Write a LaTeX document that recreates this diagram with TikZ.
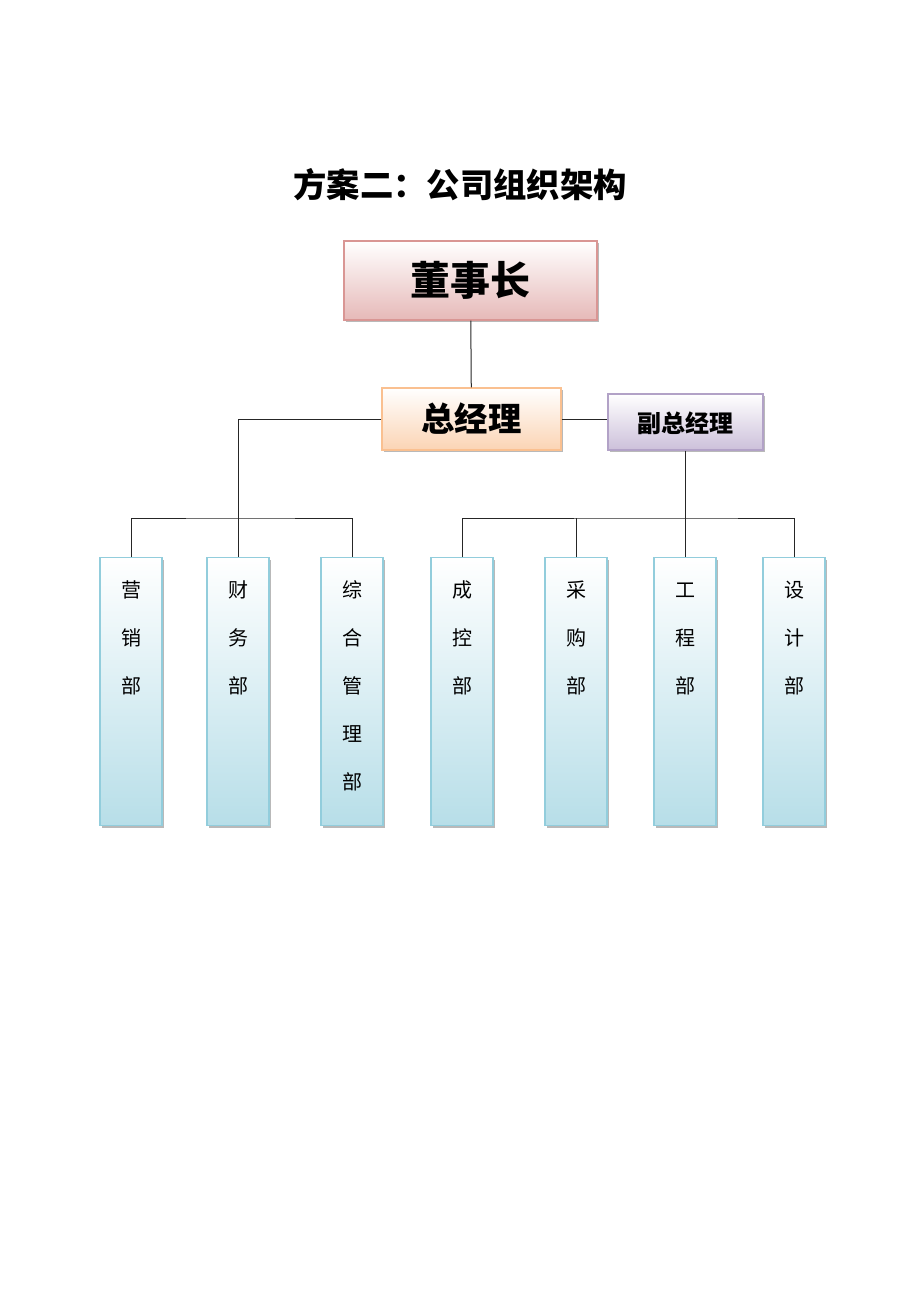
\documentclass[tikz,border=0pt]{standalone}
\usepackage{fontspec}
\setmainfont{Noto Sans CJK SC}
\usetikzlibrary{shadows}
\definecolor{chairline}{RGB}{217,150,148}
\definecolor{chairfill}{RGB}{230,185,184}
\definecolor{gmline}{RGB}{250,192,144}
\definecolor{gmfill}{RGB}{251,212,180}
\definecolor{vgmline}{RGB}{178,162,199}
\definecolor{vgmfill}{RGB}{204,192,218}
\definecolor{deptline}{RGB}{146,205,220}
\definecolor{deptfill}{RGB}{183,222,232}

\begin{document}
\begin{tikzpicture}[x=0.75pt, y=-0.75pt,
    box/.style={draw, line width=0.9pt, inner sep=0pt,
        general shadow={fill=gray!55, shadow xshift=1.5pt, shadow yshift=-1.5pt}},
    dept/.style={box, draw=deptline, top color=white, bottom color=deptfill,
        minimum width=46.5pt, minimum height=201pt, anchor=north},
    depttext/.style={font=\fontsize{15}{36}\selectfont, align=center, anchor=north,
        yshift=-11pt},
    wire/.style={draw=black!85, line width=0.75pt}]
    \useasboundingbox (0,0) rectangle (920,1302);

    % title
    \node[font=\fontsize{25}{30}\selectfont\bfseries] (title) at (460,185) {方案二：公司组织架构};

    % top management
    \node[box, draw=chairline, top color=white, bottom color=chairfill,
        minimum width=189.75pt, minimum height=59.25pt,
        font=\fontsize{30}{36}\selectfont\bfseries] (chair) at (470.5,280.5) {董事长};
    \node[box, draw=gmline, top color=white, bottom color=gmfill,
        minimum width=134.25pt, minimum height=46.5pt,
        font=\fontsize{25}{30}\selectfont\bfseries] (gm) at (471.5,419) {总经理};
    \node[box, draw=vgmline, top color=white, bottom color=vgmfill,
        minimum width=116.25pt, minimum height=42pt,
        font=\fontsize{18}{22}\selectfont\bfseries, text depth=-5pt] (vgm) at (685.5,422) {副总经理};

    % departments
    \node[dept, label={[depttext]north:\rule{0pt}{16pt}营\\销\\部}] (mkt) at (131,557) {};
    \node[dept, label={[depttext]north:\rule{0pt}{16pt}财\\务\\部}] (fin) at (238,557) {};
    \node[dept, label={[depttext]north:\rule{0pt}{16pt}综\\合\\管\\理\\部}] (adm) at (352,557) {};
    \node[dept, label={[depttext]north:\rule{0pt}{16pt}成\\控\\部}] (cost) at (462,557) {};
    \node[dept, label={[depttext]north:\rule{0pt}{16pt}采\\购\\部}] (buy) at (576,557) {};
    \node[dept, label={[depttext]north:\rule{0pt}{16pt}工\\程\\部}] (eng) at (685,557) {};
    \node[dept, label={[depttext]north:\rule{0pt}{16pt}设\\计\\部}] (des) at (794,557) {};

    % bus points
    \coordinate (lbus) at (239,518);
    \coordinate (rbus) at (683,518);

    % lines
    \draw[wire] (chair) -- (gm);
    \draw[wire] (gm) -- (vgm.west |- gm);
    \draw[wire] (gm.west) -| (fin.north);
    \draw[wire] (mkt.north) |- (lbus) -| (adm.north);
    \draw[wire] (vgm.south -| eng.north) -- (eng.north);
    \draw[wire] (cost.north) |- (rbus) -| (des.north);
    \draw[wire] (buy.north) -- (buy.north |- rbus);
\end{tikzpicture}
\end{document}
